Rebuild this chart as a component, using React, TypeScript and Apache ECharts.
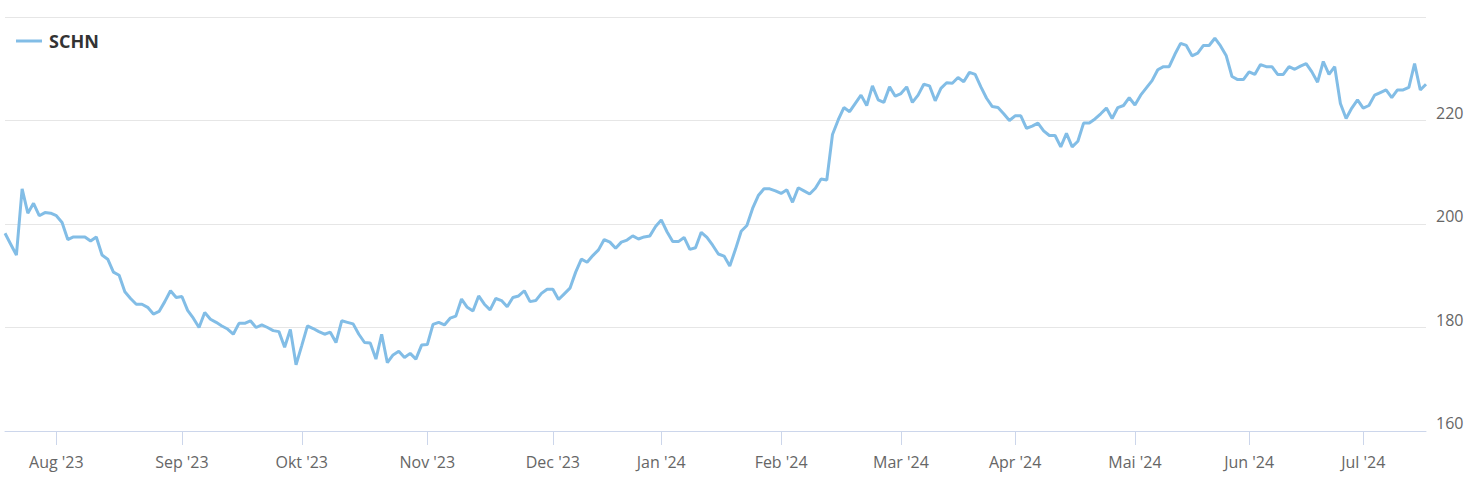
import React, { useEffect, useRef } from "react";
import * as echarts from "echarts";

// Trading calendar (SIX): weekdays from start to end, minus exchange holidays
const startDate = "2023-07-19";
const endDate = "2024-07-16";
const holidays = [
  "2023-08-01", "2023-12-25", "2023-12-26", "2024-01-01", "2024-01-02",
  "2024-03-29", "2024-04-01", "2024-05-01", "2024-05-09", "2024-05-20",
];
const monthNames = ["Jan", "Feb", "Mar", "Apr", "Mai", "Jun", "Jul", "Aug", "Sep", "Okt", "Nov", "Dec"];

// Closing prices, one array per month
const jul23 = [198.2, 196.1, 194.0, 206.8, 202.1, 204.0, 201.6, 202.2, 202.1];
const aug23 = [201.6, 200.3, 197.0, 197.5, 197.5, 197.5, 196.7, 197.5, 194.0, 193.2, 190.7, 190.1, 186.9, 185.6, 184.5, 184.5, 183.9, 182.6, 183.1, 185.0, 187.1, 185.8];
const sep23 = [186.0, 183.3, 181.8, 180.0, 182.9, 181.6, 181.0, 180.3, 179.7, 178.7, 180.8, 180.8, 181.3, 180.0, 180.5, 180.0, 179.4, 179.2, 176.2, 179.6, 172.8];
const oct23 = [176.5, 180.3, 179.8, 179.2, 178.7, 179.1, 177.1, 181.3, 181.0, 180.7, 178.7, 177.1, 177.0, 173.9, 178.7, 173.2, 174.7, 175.4, 174.2, 175.0, 173.9, 176.6];
const nov23 = [176.7, 180.6, 181.0, 180.5, 181.8, 182.2, 185.5, 183.9, 183.2, 186.1, 184.5, 183.4, 185.6, 185.2, 184.0, 185.8, 186.1, 187.1, 185.0, 185.2, 186.6, 187.4];
const dec23 = [187.4, 185.4, 186.5, 187.6, 190.7, 193.2, 192.6, 193.9, 195.0, 197.0, 196.5, 195.3, 196.5, 196.9, 197.7, 197.1, 197.5, 197.7, 199.5];
const jan24 = [200.8, 198.5, 196.6, 196.6, 197.4, 195.1, 195.4, 198.4, 197.4, 195.9, 194.2, 193.8, 191.9, 195.1, 198.6, 199.7, 203.0, 205.5, 206.8, 206.8, 206.4];
const feb24 = [205.9, 206.6, 204.2, 207.0, 206.4, 205.8, 206.9, 208.7, 208.5, 217.3, 220.1, 222.5, 221.7, 223.3, 224.9, 222.9, 226.7, 224.0, 223.5, 226.5, 224.7];
const mar24 = [225.2, 226.5, 223.5, 224.9, 227.0, 226.7, 223.8, 226.2, 227.3, 227.2, 228.3, 227.5, 229.3, 228.9, 226.5, 224.3, 222.7, 222.5, 221.3, 220.0];
const apr24 = [220.9, 220.9, 218.5, 218.9, 219.5, 218.0, 217.1, 217.1, 214.9, 217.5, 214.9, 216.0, 219.5, 219.5, 220.3, 221.3, 222.4, 220.4, 222.5, 222.9, 224.4];
const may24 = [223.0, 224.9, 226.3, 227.7, 229.8, 230.4, 230.4, 232.8, 234.9, 234.5, 232.5, 233.0, 234.5, 234.5, 235.9, 234.4, 232.5, 228.5, 227.9, 227.9];
const jun24 = [229.4, 228.9, 230.8, 230.4, 230.4, 228.9, 228.9, 230.4, 229.9, 230.5, 231.0, 229.4, 227.4, 231.4, 228.9, 230.4, 223.3, 220.4, 222.4, 224.0];
const jul24 = [222.4, 222.9, 224.9, 225.4, 225.9, 224.4, 225.9, 225.9, 226.4, 231.0, 225.9, 227.0];

const seriesName = "SCHN";
const yMin = 160;
const yMax = 240;
const yStep = 20;

function tradingDays(): string[] {
  const out: string[] = [];
  const [sy, sm, sd] = startDate.split("-").map(Number);
  const [ey, em, ed] = endDate.split("-").map(Number);
  const d = new Date(Date.UTC(sy, sm - 1, sd));
  const end = Date.UTC(ey, em - 1, ed);
  while (d.getTime() <= end) {
    const dow = d.getUTCDay();
    const s = d.toISOString().slice(0, 10);
    if (dow !== 0 && dow !== 6 && holidays.indexOf(s) < 0) out.push(s);
    d.setUTCDate(d.getUTCDate() + 1);
  }
  return out;
}

export default function App() {
  const ref = useRef<HTMLDivElement>(null);
  useEffect(() => {
    if (!ref.current) return;
    const chart = echarts.init(ref.current, undefined, { renderer: "svg" });
    const dates = tradingDays();
    const values = [
      ...jul23, ...aug23, ...sep23, ...oct23, ...nov23, ...dec23,
      ...jan24, ...feb24, ...mar24, ...apr24, ...may24, ...jun24, ...jul24,
    ];
    const monthStart = new Set<number>();
    for (let i = 1; i < dates.length; i++) {
      if (dates[i].slice(0, 7) !== dates[i - 1].slice(0, 7)) monthStart.add(i);
    }
    const font = "'Open Sans', 'Noto Sans', sans-serif";
    const lineColor = "#82bde6";
    chart.setOption({
      animation: false,
      backgroundColor: "#ffffff",
      grid: { left: 5, right: 51, top: 17, bottom: 59, containLabel: false },
      legend: {
        show: true,
        left: 16,
        top: 32,
        padding: 0,
        icon: "rect",
        itemWidth: 26,
        itemHeight: 3,
        textStyle: { fontSize: 18, fontWeight: "bold", color: "#333333", fontFamily: font, padding: [0, 0, 0, 2] },
        data: [seriesName],
      },
      xAxis: {
        type: "category",
        boundaryGap: false,
        data: dates,
        axisLine: { lineStyle: { color: "#ccd6eb", width: 1 } },
        axisTick: {
          show: true,
          length: 14,
          interval: (idx: number) => monthStart.has(idx),
          lineStyle: { color: "#ccd6eb", width: 1 },
        },
        axisLabel: {
          interval: (idx: number) => monthStart.has(idx),
          formatter: (v: string) => {
            const m = Number(v.slice(5, 7)) - 1;
            return monthNames[m] + " '" + v.slice(2, 4);
          },
          color: "#666666",
          fontSize: 16,
          fontFamily: font,
          margin: 23,
        },
        splitLine: { show: false },
      },
      yAxis: {
        type: "value",
        position: "right",
        min: yMin,
        max: yMax,
        interval: yStep,
        axisLine: { show: false },
        axisTick: { show: false },
        splitLine: { lineStyle: { color: "#e6e6e6", width: 1 } },
        axisLabel: {
          margin: 10,
          color: "#666666",
          fontSize: 16,
          fontFamily: font,
          verticalAlign: "bottom",
          padding: [0, 0, 0, 0],
          formatter: (v: number) => (v === yMax ? "" : String(v)),
        },
      },
      series: [
        {
          name: seriesName,
          type: "line",
          data: values,
          symbol: "none",
          showSymbol: false,
          lineStyle: { color: lineColor, width: 3 },
          itemStyle: { color: lineColor },
        },
      ],
    });
    return () => chart.dispose();
  }, []);
  return (
    <div
      ref={ref}
      style={{ position: "fixed", left: 0, top: 0, width: 1477, height: 490 }}
    />
  );
}
